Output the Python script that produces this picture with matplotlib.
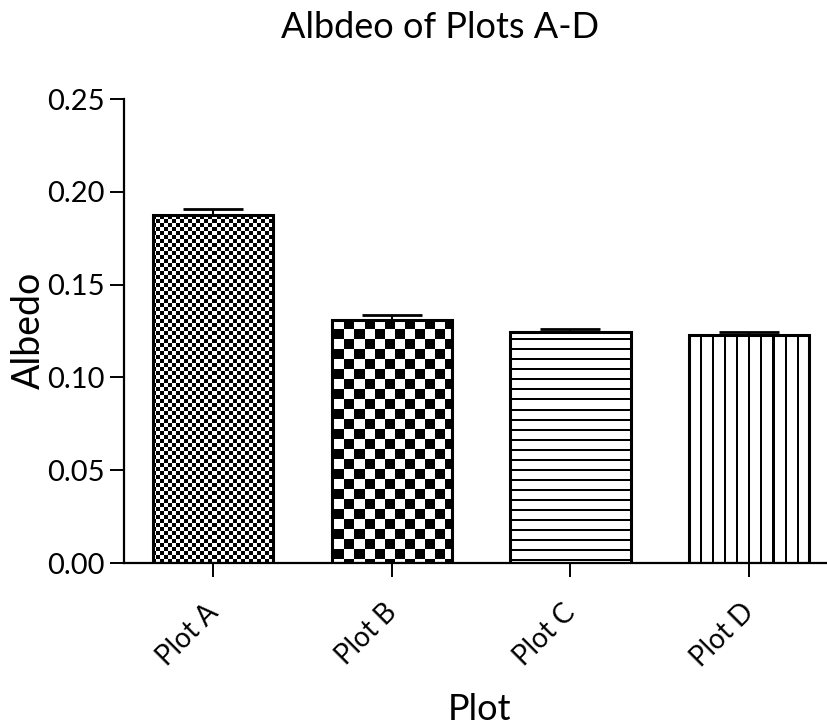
import numpy as np
import matplotlib
matplotlib.use("Agg")
import matplotlib.pyplot as plt
import matplotlib.transforms as mtransforms

categories = ["Plot A", "Plot B", "Plot C", "Plot D"]
albedo = [0.1875, 0.1309, 0.1246, 0.1228]
sem = [0.0032, 0.0027, 0.0015, 0.0018]
yticks = [0.00, 0.05, 0.10, 0.15, 0.20, 0.25]
ytick_labels = ["0.00", "0.05", "0.10", "0.15", "0.20", "0.25"]

plt.rcParams['font.family'] = ['Lato', 'DejaVu Sans']

W, H = 828, 726
fig = plt.figure(figsize=(W / 100, H / 100), dpi=100)
ax_l, ax_b, ax_r, ax_t = 124, 163, 828, 627  # pixel box (from bottom)
ax = fig.add_axes([ax_l / W, ax_b / H, (ax_r - ax_l) / W, (ax_t - ax_b) / H])

x = np.arange(len(categories))
bars = ax.bar(x, albedo, width=0.672, facecolor='none', edgecolor='black',
              linewidth=2.2, zorder=2)
ax.errorbar(x, albedo, yerr=[np.zeros(len(sem)), sem], fmt='none',
            ecolor='black', elinewidth=1.5, capsize=21.5, capthick=2.0, zorder=3)

# fill patterns (pixel-sized image clipped to each bar)
pw, ph = ax_r - ax_l, ax_t - ax_b
yy, xx = np.mgrid[0:ph, 0:pw]
patterns = [
    ((xx // 4 + yy // 4) % 2 == 0),
    ((xx // 10 + yy // 10) % 2 == 0),
    (yy % 10 < 2),
    (xx % 12 < 2),
]
for bar, pat in zip(bars, patterns):
    img = np.where(pat, 0.0, 1.0)
    im = ax.imshow(img, cmap='gray', vmin=0, vmax=1, extent=[0, 1, 0, 1],
                   transform=ax.transAxes, interpolation='nearest',
                   aspect='auto', zorder=1.5)
    im.set_clip_path(bar)

ax.set_xlim(-0.498, 3.441)
ax.set_ylim(0, 0.25)
ax.set_yticks(yticks)
ax.set_yticklabels(ytick_labels)
ax.set_xticks(x)
ax.set_xticklabels([])
blend = mtransforms.blended_transform_factory(ax.transData, ax.transAxes)
offset = mtransforms.ScaledTranslation(-6 / 72, -26 / 72, fig.dpi_scale_trans)
for xi, cat in zip(x, categories):
    ax.text(xi, 0, cat, transform=blend + offset, rotation=45, ha='right',
            va='top', rotation_mode='anchor', fontsize=20, clip_on=False)
for s in ['top', 'right']:
    ax.spines[s].set_visible(False)
for s in ['left', 'bottom']:
    ax.spines[s].set_linewidth(1.6)
ax.tick_params(axis='y', direction='out', length=10, width=1.4, labelsize=21, pad=4)
ax.tick_params(axis='x', direction='out', length=10, width=1.4)

fig.text(29 / W, 1 - 330 / H, "Albedo", fontsize=27, ha='center', va='center',
         rotation=90)
fig.text(480 / W, 1 - 710 / H, "Plot", fontsize=26, ha='center', va='center')
fig.text(440 / W, 1 - 28 / H, "Albdeo of Plots A-D", fontsize=26, ha='center', va='center')

fig.savefig("out.png", dpi=100, facecolor='white')
